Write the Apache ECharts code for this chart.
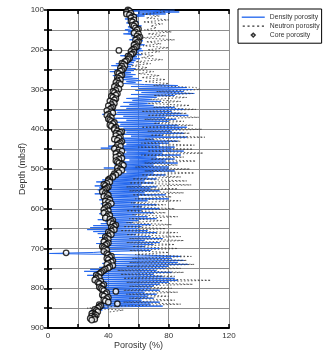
<!DOCTYPE html>
<html>
<head>
<meta charset="utf-8">
<script src="https://cdn.jsdelivr.net/npm/echarts@6/dist/echarts.min.js"></script>
<style>
  html, body { margin: 0; padding: 0; background: #fff; }
  #chart { width: 328px; height: 352px; }
</style>
</head>
<body>
<div id="chart"></div>
<script>
// Log sampling: first depth (mbsf) and spacing (m) of each downhole log
const LOG_TOP = 100;
const DENSITY_STEP = 2.5;
const NEUTRON_STEP = 5;

// Density-derived porosity (%), one reading every DENSITY_STEP m from LOG_TOP
const densityPorosity = [
  84, 55, 87, 60, 78, 52, 64, 54, 58, 51, 56, 53, 60, 52, 57, 54, 62, 53, 58, 55,
  51, 57, 53, 60, 50, 58, 55, 62, 56, 59, 54, 63, 57, 60, 55, 64, 58, 61, 56, 62,
  58, 63, 55, 60, 52, 62, 48, 59, 54, 61, 53, 58, 50, 57, 45, 56, 42, 55, 46, 58,
  44, 57, 41, 55, 47, 58, 43, 56, 50, 60, 48, 62, 52, 58, 50, 64, 86, 55, 92, 60,
  96, 58, 90, 62, 97, 55, 84, 60, 72, 52, 68, 56, 75, 50, 66, 54, 70, 48, 84, 52,
  90, 40, 82, 46, 88, 36, 93, 50, 78, 44, 85, 52, 80, 42, 74, 48, 86, 45, 92, 50,
  88, 47, 82, 52, 90, 48, 76, 55, 92, 46, 70, 50, 86, 44, 80, 52, 74, 40, 84, 35,
  82, 48, 90, 52, 76, 45, 88, 50, 72, 46, 84, 54, 78, 47, 86, 44, 70, 50, 80, 37,
  80, 47, 84, 52, 70, 45, 78, 42, 66, 40, 72, 36, 64, 32, 70, 38, 62, 31, 72, 34,
  68, 33, 74, 38, 64, 31, 78, 36, 60, 40, 80, 34, 66, 38, 58, 35, 72, 36, 62, 38,
  74, 35, 62, 38, 70, 34, 58, 40, 66, 36, 72, 33, 60, 38, 56, 35, 68, 30, 62, 28,
  60, 26, 66, 30, 72, 33, 58, 36, 68, 34, 76, 38, 64, 35, 74, 32, 70, 38, 64, 36,
  74, 36, 68, 40, 30, 1, 42, 70, 88, 40, 82, 38, 90, 42, 86, 36, 93, 38, 80, 34,
  78, 28, 72, 24, 82, 30, 70, 26, 76, 32, 84, 30, 86, 34, 80, 32, 74, 36, 70, 34,
  68, 34, 74, 38, 64, 36, 72, 40, 66, 35, 70, 38, 62, 36, 74, 33, 68, 34, 76, 32,
  40, 30, 36, 28, 30
];

// Neutron porosity (%), one reading every NEUTRON_STEP m from LOG_TOP
const neutronPorosity = [
  74, 78, 62, 74, 65, 80, 63, 76, 68, 72,
  64, 82, 66, 78, 62, 84, 65, 75, 63, 80,
  66, 74, 60, 70, 62, 76, 58, 68, 55, 66,
  57, 70, 60, 74, 62, 78, 64, 80, 70, 98,
  101, 72, 96, 70, 92, 68, 88, 66, 94, 70,
  98, 62, 92, 66, 100, 64, 90, 70, 96, 62,
  102, 66, 94, 68, 104, 64, 88, 62, 97, 60,
  96, 66, 103, 62, 90, 68, 98, 64, 86, 58,
  94, 64, 97, 62, 88, 56, 92, 54, 95, 52,
  86, 54, 90, 56, 82, 58, 88, 55, 78, 56,
  84, 52, 78, 56, 86, 54, 76, 52, 82, 50,
  78, 48, 86, 52, 88, 54, 90, 52, 84, 56,
  86, 54, 80, 58, 95, 56, 92, 54, 97, 52,
  88, 46, 90, 48, 84, 50, 108, 52, 96, 54,
  82, 50, 86, 52, 80, 54, 84, 50, 88, 48,
  26, 50, 40
];

// Core sample porosity measurements: [depth (mbsf), porosity (%)]
const coreSamples = [
  [100, 53], [102, 54], [105, 52], [108, 55], [110, 52], [112, 54], [116, 56], [118, 57],
  [120, 55], [125, 57], [128, 55], [130, 56], [135, 58], [138, 56], [140, 57], [145, 58],
  [148, 60], [150, 59], [155, 58], [158, 57], [160, 60], [165, 59], [168, 61], [170, 60],
  [174, 59], [176, 58], [180, 60], [182, 59], [186, 58], [188, 57], [192, 59], [194, 58],
  [198, 57], [200, 56], [201.6, 47], [204, 55], [206, 57], [210, 56], [212, 55], [216, 53],
  [218, 54], [222, 54], [224, 53], [228, 52], [230, 51], [234, 49], [236, 50], [240, 51],
  [242, 49], [246, 48], [248, 50], [252, 49], [254, 48], [258, 46], [260, 47], [264, 49],
  [266, 48], [270, 46], [272, 47], [276, 48], [278, 46], [282, 45], [284, 47], [287, 48],
  [290, 45], [293, 44], [296, 46], [299, 47], [302, 45], [305, 43], [308, 44], [311, 46],
  [314, 45], [317, 42], [320, 43], [323, 45], [326, 44], [329, 41], [332, 43], [335, 44],
  [338, 42], [341, 40], [344, 43], [347, 42], [350, 41], [353, 39], [356, 42], [359, 43],
  [362, 40], [365, 39], [368, 41], [371, 42], [374, 40], [377, 41], [380, 42], [383, 44],
  [386, 43], [389, 41], [392, 42], [395, 45], [398, 44], [401, 44], [404, 46], [406, 49],
  [408, 48], [410, 45], [412, 47], [416, 45], [419, 48], [422, 47], [425, 44], [428, 46],
  [431, 49], [434, 48], [437, 47], [440, 46], [443, 48], [446, 45], [449, 44], [452, 47],
  [455, 49], [458, 46], [461, 45], [464, 48], [467, 47], [470, 45], [473, 49], [476, 47],
  [479, 45], [482, 46], [485, 47], [488, 49], [491, 50], [494, 47], [497, 46], [500, 48],
  [503, 49], [506, 46], [509, 47], [512, 44], [515, 45], [518, 43], [521, 43], [524, 41],
  [527, 40], [530, 40], [533, 41], [536, 39], [539, 37], [542, 38], [545, 40], [548, 39],
  [551, 38], [554, 37], [557, 36], [560, 38], [563, 39], [566, 40], [569, 37], [572, 39],
  [575, 40], [578, 41], [581, 38], [584, 40], [587, 42], [590, 38], [593, 40], [596, 39],
  [599, 38], [602, 37], [605, 40], [608, 38], [611, 37], [614, 40], [617, 41], [620, 39],
  [623, 38], [626, 41], [629, 43], [632, 42], [635, 41], [638, 43], [641, 45], [644, 44],
  [647, 42], [650, 43], [653, 44], [656, 42], [659, 40], [662, 41], [665, 42], [668, 40],
  [671, 38], [674, 39], [677, 40], [680, 38], [683, 37], [686, 40], [689, 39], [692, 38],
  [695, 36], [698, 37], [701, 38], [704, 39], [707, 37], [711, 12], [713, 39], [716, 40],
  [719, 42], [722, 41], [725, 39], [728, 40], [731, 43], [734, 42], [737, 40], [740, 39],
  [743, 43], [746, 41], [749, 40], [752, 38], [755, 37], [758, 36], [761, 35], [764, 34],
  [767, 32], [770, 33], [773, 34], [776, 32], [779, 31], [782, 35], [785, 33], [788, 34],
  [791, 37], [794, 36], [797, 34], [800, 35], [803, 36], [806, 37], [808, 45], [811, 39],
  [814, 38], [817, 36], [820, 37], [823, 40], [826, 39], [829, 37], [832, 38], [835, 40],
  [839, 46], [841, 34], [844, 35], [847, 34], [850, 33], [853, 31], [856, 32], [859, 33],
  [862, 30], [864, 29], [866, 31], [868, 32], [870, 29], [872, 31], [874, 30], [876, 28],
  [878, 31], [880, 29]
];

// Labelled ticks on each axis
const porosityTickLabels = [0, 40, 80, 120];
const depthTickLabels = [100, 200, 300, 400, 500, 600, 700, 800, 900];

const densityData = densityPorosity.map((v, i) => [v, LOG_TOP + i * DENSITY_STEP]);
const neutronData = neutronPorosity.map((v, i) => [v, LOG_TOP + i * NEUTRON_STEP]);
const coreData = coreSamples.map(([depth, porosity]) => [porosity, depth]);

const FONT = '"Liberation Sans", Arial, sans-serif';
const TEXT = '#333';
const BLUE = '#2468ee';
const NEUTRON = '#333';
const frameTick = { show: true, inside: true, length: 4, lineStyle: { color: '#000', width: 1.5 } };
const frameLine = { show: true, lineStyle: { color: '#000', width: 2 } };
const gridLine = { show: true, lineStyle: { color: '#8f8f8f', width: 1 } };

// Legend glyphs: the leading/trailing moveTo points fix the glyph box at 24x7
const ICON_SOLID = 'path://M0,0M0,3h24v1.4h-24zM24,7';
const ICON_DOTTED = 'path://M0,0M1,3h2.2v1.2h-2.2zM6,3h2.2v1.2h-2.2zM11,3h2.2v1.2h-2.2zM16,3h2.2v1.2h-2.2zM21,3h2.2v1.2h-2.2zM24,7';
const ICON_CORE = 'path://M0,0M12,1.5L14,3.5L12,5.5L10,3.5ZM24,7';

const chart = echarts.init(document.getElementById('chart'), null, { renderer: 'canvas' });
chart.setOption({
  animation: false,
  backgroundColor: '#fff',
  textStyle: { fontFamily: FONT },
  grid: { left: 48, right: 99, top: 10, bottom: 24, containLabel: false, outerBoundsMode: 'none' },
  legend: {
    orient: 'vertical',
    left: 238,
    top: 9,
    padding: [4, 2, 4, 3],
    itemGap: 1,
    itemWidth: 23,
    itemHeight: 7,
    borderColor: '#000',
    borderWidth: 1,
    backgroundColor: '#fff',
    textStyle: { fontSize: 6.8, lineHeight: 8, color: TEXT, fontFamily: FONT },
    data: [
      { name: 'Density porosity', icon: ICON_SOLID, itemStyle: { color: BLUE, borderWidth: 0 } },
      { name: 'Neutron porosity', icon: ICON_DOTTED, itemStyle: { color: NEUTRON, borderWidth: 0 } },
      { name: 'Core porosity', icon: ICON_CORE, itemStyle: { color: '#fff', borderColor: '#000', borderWidth: 1.5 } }
    ]
  },
  xAxis: [
    {
      type: 'value', position: 'bottom', min: 0, max: 120, interval: 20,
      name: 'Porosity (%)', nameLocation: 'middle', nameGap: 13, nameMoveOverlap: false,
      nameTextStyle: { fontSize: 9, color: TEXT, fontFamily: FONT },
      axisLine: frameLine, axisTick: frameTick, splitLine: gridLine,
      axisLabel: {
        fontSize: 8, color: TEXT, margin: 4, fontFamily: FONT,
        formatter: v => porosityTickLabels.includes(v) ? String(v) : ''
      }
    },
    {
      type: 'value', position: 'top', min: 0, max: 120, interval: 20,
      axisLine: frameLine, axisTick: frameTick, splitLine: { show: false },
      axisLabel: { show: false }
    }
  ],
  yAxis: [
    {
      type: 'value', position: 'left', inverse: true, min: 100, max: 900, interval: 50,
      name: 'Depth (mbsf)', nameLocation: 'middle', nameGap: 21, nameMoveOverlap: false,
      nameTextStyle: { fontSize: 9, color: TEXT, fontFamily: FONT },
      axisLine: frameLine, axisTick: frameTick, splitLine: gridLine,
      axisLabel: {
        fontSize: 8, color: TEXT, margin: 4, fontFamily: FONT,
        formatter: v => depthTickLabels.includes(v) ? String(v) : ''
      }
    },
    {
      type: 'value', position: 'right', inverse: true, min: 100, max: 900, interval: 50,
      axisLine: frameLine, axisTick: frameTick, splitLine: { show: false },
      axisLabel: { show: false }
    }
  ],
  series: [
    {
      name: 'Density porosity', type: 'line', xAxisIndex: 0, yAxisIndex: 0,
      data: densityData, symbol: 'none', showSymbol: false,
      lineStyle: { color: BLUE, width: 1 }, itemStyle: { color: BLUE },
      z: 2
    },
    {
      name: 'Neutron porosity', type: 'line', xAxisIndex: 0, yAxisIndex: 0,
      data: neutronData, symbol: 'none', showSymbol: false,
      lineStyle: { color: NEUTRON, width: 0.8, type: [1.5, 2] }, itemStyle: { color: NEUTRON },
      z: 3
    },
    {
      name: 'Core porosity', type: 'scatter', xAxisIndex: 0, yAxisIndex: 0,
      data: coreData, symbol: 'circle', symbolSize: 5.5,
      itemStyle: { color: '#fff', borderColor: '#000', borderWidth: 1.3 },
      z: 4
    }
  ]
});
</script>
</body>
</html>
